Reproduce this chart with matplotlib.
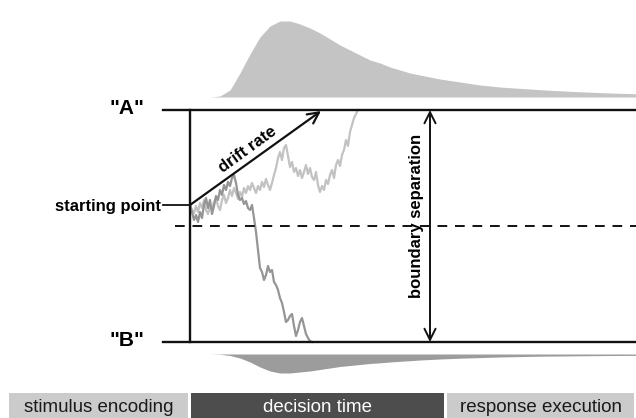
import matplotlib.pyplot as plt
import numpy as np

plt.rcParams['font.family'] = ['Liberation Sans', 'DejaVu Sans']

# diagram geometry (pixel space)
upper, lower, mid, start_y = 110, 342, 226, 205
t0 = 190

# sample paths (y in pixels, one sample every 2 px of time)
light_path = [205, 210, 213, 206, 212, 203, 208, 200, 210, 214, 205, 209, 202, 198, 206,
              210, 200, 195, 203, 198, 190, 196, 188, 193, 199, 192, 197, 188, 193, 186,
              190, 183, 188, 193, 186, 190, 182, 187, 179, 185, 190, 183, 175, 168, 158,
              152, 160, 148, 145, 156, 167, 162, 172, 168, 176, 170, 178, 172, 165, 174,
              168, 177, 180, 172, 185, 192, 186, 190, 180, 184, 175, 170, 178, 165, 160,
              166, 155, 150, 140, 146, 132, 125, 118, 114, 110]
dark_path = [205, 212, 220, 215, 222, 212, 218, 205, 198, 208, 200, 214, 206, 196, 200,
             190, 195, 185, 190, 182, 186, 178, 175, 183, 195, 200, 198, 204, 201, 208,
             210, 205, 218, 232, 250, 268, 272, 280, 275, 266, 272, 270, 282, 285, 290,
             298, 303, 312, 322, 320, 316, 314, 326, 336, 330, 322, 318, 326, 334, 338,
             341, 342]

# RT densities: height in px above/below each boundary
dens_x = [210, 220, 230, 240, 250, 260, 270, 280, 290, 300, 310, 320, 330, 340, 350,
          360, 370, 380, 390, 400, 410, 420, 430, 440, 450, 460, 470, 480, 490, 500,
          510, 520, 530, 540, 550, 560, 570, 580, 590, 600, 610, 620, 630, 636]
top_dens = [0, 1, 7, 24, 43, 60, 71, 76, 76, 73, 69, 64, 58, 52, 47,
            42, 37, 34, 30, 27, 24, 22, 20, 18, 16.5, 15, 13.5, 12, 11, 10,
            9.3, 8.6, 8, 7.3, 6.7, 6.2, 5.7, 5.2, 4.8, 4.4, 4, 3.7, 3.4, 3.2]
bot_dens = [0, 0.3, 1.5, 4, 8, 13, 17, 19, 19, 18, 17, 15.5, 14, 12.5, 11.5,
            10.5, 9.5, 8.8, 8, 7.3, 6.7, 6, 5.5, 5, 4.6, 4.2, 3.9, 3.6, 3.3, 3,
            2.8, 2.6, 2.4, 2.2, 2.1, 2, 1.9, 1.8, 1.7, 1.6, 1.5, 1.5, 1.4, 1.4]

stages = ['stimulus encoding', 'decision time', 'response execution']
stage_x = [(9, 188), (191, 444), (447, 634)]
stage_col = ['#cbcbcb', '#4d4d4d', '#cbcbcb']
stage_txt = ['#1a1a1a', 'white', '#1a1a1a']

fig = plt.figure(figsize=(6.36, 4.18), dpi=100)
ax = fig.add_axes([0, 0, 1, 1])
ax.set_xlim(0, 636)
ax.set_ylim(418, 0)
ax.axis('off')

# densities
top_base, bot_base = 97, 354
ax.fill_between(dens_x, top_base, top_base - np.array(top_dens), color='#c4c4c4', lw=0)
ax.fill_between(dens_x, bot_base, bot_base + np.array(bot_dens), color='#9c9c9c', lw=0)

# paths
ax.plot(t0 + 2 * np.arange(len(light_path)), light_path, color='#c2c2c2', lw=1.6)
ax.plot(t0 + 2 * np.arange(len(dark_path)), dark_path, color='#959595', lw=1.6)

# boundaries
ax.plot([163, 636], [upper, upper], color='#111111', lw=1.7)
ax.plot([163, 636], [lower, lower], color='#111111', lw=1.7)
ax.plot([t0, t0], [upper, lower], color='#111111', lw=1.7)
ax.plot([175, 636], [mid, mid], color='#111111', lw=1.4, ls=(0, (5, 4)))
ax.plot([163, t0], [start_y, start_y], color='#111111', lw=1.3)

ax.text(127, upper - 1, '"A"', ha='center', va='center', fontsize=15, fontweight='bold')
ax.text(127, lower - 1, '"B"', ha='center', va='center', fontsize=15, fontweight='bold')
ax.text(161, start_y + 1, 'starting point', ha='right', va='center', fontsize=12,
        fontweight='bold')

# drift rate arrow
ax.annotate('', xy=(321, 111), xytext=(t0, start_y),
            arrowprops=dict(arrowstyle='->', color='#111111', lw=1.6,
                            mutation_scale=20, shrinkA=0, shrinkB=0))
ax.text(248, 150, 'drift rate', ha='center', va='center', rotation=36,
        rotation_mode='anchor', fontsize=12, fontweight='bold')

# boundary separation arrow
ax.annotate('', xy=(430, upper), xytext=(430, lower),
            arrowprops=dict(arrowstyle='<->', color='#111111', lw=1.4,
                            mutation_scale=20, shrinkA=0, shrinkB=0))
ax.text(416, 216, 'boundary separation', ha='center', va='center', rotation=90,
        fontsize=12, fontweight='bold')

# stage boxes
for name, (x0, x1), c, tc in zip(stages, stage_x, stage_col, stage_txt):
    ax.add_patch(plt.Rectangle((x0, 393), x1 - x0, 25, color=c, lw=0))
    ax.text((x0 + x1) / 2, 407, name, ha='center', va='center', fontsize=13.5, color=tc)

fig.savefig('out.png', dpi=100)
